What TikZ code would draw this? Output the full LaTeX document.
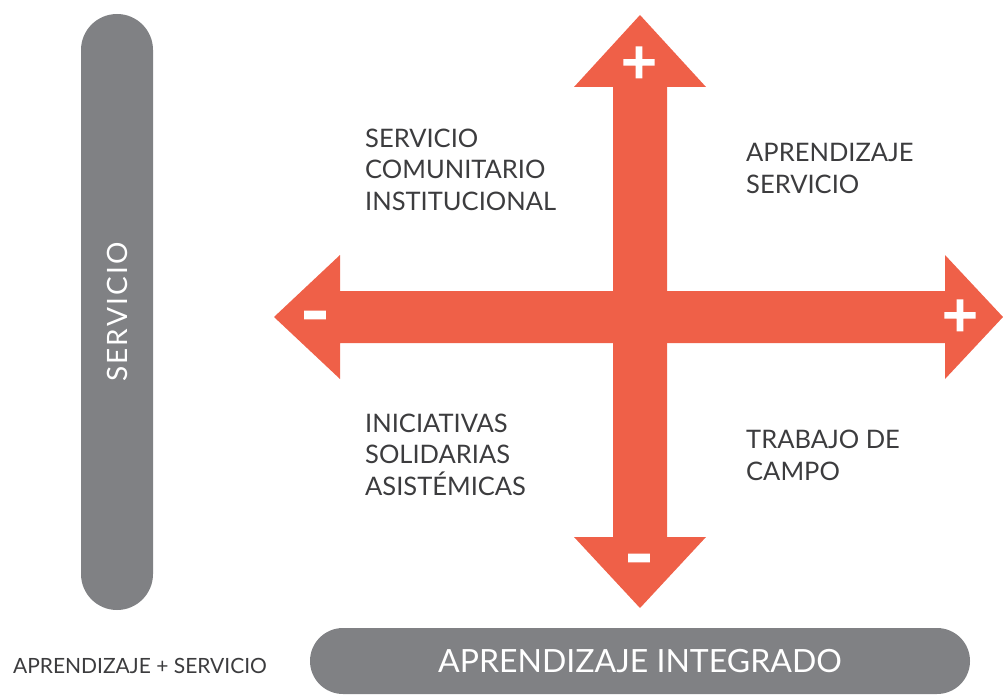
\documentclass[tikz,border=0pt]{standalone}
\usepackage{fontspec}
\setmainfont{Lato}
\newfontfamily\signfont[FakeBold=4]{Lato}
\usetikzlibrary{shapes,arrows}
\definecolor{crossred}{RGB}{239,96,72}
\definecolor{bargray}{RGB}{128,129,132}
\definecolor{labelgray}{RGB}{60,60,62}
\tikzset{
	quad/.style    = {anchor = base west, align = left, inner sep = 0pt,
		text = labelgray, font = \fontsize{25.5}{31.5}\selectfont},
	bar/.style     = {fill = bargray, text = white, inner sep = 0pt},
	sign/.style    = {text = white, inner sep = 0pt, font = \signfont\fontsize{60}{60}\selectfont},
	minus/.style   = {sign, font = \signfont\fontsize{76}{76}\selectfont},
	caption/.style = {text = labelgray, inner sep = 0pt}
}

\begin{document}
\begin{tikzpicture}[x=1pt, y=-1pt]
	\useasboundingbox (0,0) rectangle (1003,698);
	% the two double arrows
	\fill[crossred] (640,15) -- (706,87) -- (667,87) -- (667,537) -- (706,537)
		-- (640,608) -- (574,537) -- (613,537) -- (613,87) -- (574,87) -- cycle;
	\fill[crossred] (274,317) -- (340,255) -- (340,291) -- (945,291) -- (945,255)
		-- (1003,317) -- (945,379) -- (945,343) -- (340,343) -- (340,379) -- cycle;

	\draw
	node at (117,312) [bar, rotate = 90, minimum width = 596pt, minimum height = 72pt,
		rounded corners = 36pt, font = \fontsize{28}{28}\selectfont\addfontfeatures{LetterSpace=8}] (servicio) {SERVICIO}
	node at (640,661) [bar, minimum width = 660pt, minimum height = 66pt,
		rounded corners = 33pt, font = \fontsize{32}{32}\selectfont] (integrado) {APRENDIZAJE INTEGRADO}
	node at (140,666) [caption, font = \fontsize{21}{21}\selectfont] (suma) {APRENDIZAJE + SERVICIO}
	node at (365,210) [quad] (q1) {SERVICIO\\COMUNITARIO\\INSTITUCIONAL}
	node at (746,193) [quad] (q2) {APRENDIZAJE\\SERVICIO}
	node at (365,495) [quad] (q3) {INICIATIVAS\\SOLIDARIAS\\ASISTÉMICAS}
	node at (746,480) [quad] (q4) {TRABAJO DE\\CAMPO}
	node at (639,65) [sign] (ymas) {+}
	node at (639,568) [minus] (ymenos) {-}
	node at (960,318) [sign] (xmas) {+}
	node at (315,325) [minus] (xmenos) {-};
\end{tikzpicture}
\end{document}
